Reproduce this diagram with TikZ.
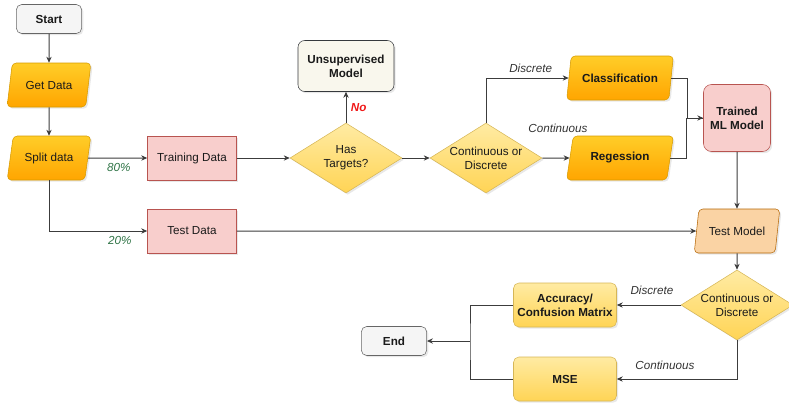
\documentclass[tikz,border=0pt]{standalone}
\usepackage{fontspec}
\setmainfont{Liberation Sans}
\usetikzlibrary{positioning, shapes.geometric, arrows.meta, shadows}
\definecolor{TermFill}  {HTML}{F5F5F5}
\definecolor{TermLine}  {HTML}{666666}
\definecolor{OrTop}     {HTML}{FFCD28}
\definecolor{OrBot}     {HTML}{FFA500}
\definecolor{OrLine}    {HTML}{D79B00}
\definecolor{PinkFill}  {HTML}{F8CECC}
\definecolor{PinkLine}  {HTML}{B85450}
\definecolor{YelTop}    {HTML}{FFEBA3}
\definecolor{YelBot}    {HTML}{FFD455}
\definecolor{YelLine}   {HTML}{D6B656}
\definecolor{UnsFill}   {HTML}{F9F7ED}
\definecolor{UnsLine}   {HTML}{36393D}
\definecolor{PeachFill} {HTML}{FAD3A4}
\definecolor{PeachLine} {HTML}{B46504}
\definecolor{LineC}     {HTML}{3C3C3C}
\definecolor{TxtMain}   {HTML}{1A1A1A}
\definecolor{TxtSub}    {HTML}{333333}
\definecolor{TxtGreen}  {HTML}{2E7345}
\definecolor{TxtRed}    {HTML}{F01818}

\tikzset{
  base/.style={font=\fontsize{8.75}{10.5}\selectfont, text=TxtMain, align=center,
               inner sep=1pt,
               drop shadow={opacity=0.18, shadow xshift=1.3pt, shadow yshift=-1.3pt}},
  terminal/.style={base, rectangle, rounded corners=4pt, fill=TermFill, draw=TermLine,
                   minimum width=49pt, minimum height=21.75pt,
                   font=\fontsize{8.75}{10.5}\selectfont\bfseries},
  iobox/.style={base, trapezium, trapezium left angle=72, trapezium right angle=108,
                trapezium stretches=true, rounded corners=3pt,
                top color=OrTop, bottom color=OrBot, draw=OrLine,
                minimum width=63pt, minimum height=33pt},
  databox/.style={base, rectangle, fill=PinkFill, draw=PinkLine,
                  minimum width=66.75pt, minimum height=33pt},
  decide/.style={base, diamond, aspect=1.6, inner sep=0pt,
                 top color=YelTop, bottom color=YelBot,
                 draw=YelLine, minimum width=84pt, minimum height=52.5pt},
  resbox/.style={base, rectangle, rounded corners=4pt, top color=YelTop, bottom color=YelBot,
                 draw=YelLine, minimum width=77.25pt, minimum height=33pt,
                 font=\fontsize{8.75}{10.5}\selectfont\bfseries},
  flow/.style={draw=LineC, line width=0.75pt, -{Stealth[length=4.5pt, width=4pt]}},
  link/.style={draw=LineC, line width=0.75pt},
  edgelbl/.style={font=\fontsize{8.75}{10.5}\selectfont\itshape, text=TxtSub},
}

\begin{document}
\begin{tikzpicture}[x=0.75pt, y=-0.75pt]
  \useasboundingbox (0,0) rectangle (789,412);

  % ── Left column: start and data ──
  \node[terminal] (start) at (49,19) {Start};
  \node[iobox] (getdata) at (49,85) {Get Data};
  \node[iobox] (split) at (49,158) {Split data};
  \node[databox] (train) at (192,158) {Training Data};
  \node[databox] (test) at (192,231) {Test Data};

  % ── Training branch ──
  \node[decide] (targets) at (346,158) {Has\\Targets?};
  \node[base, rectangle, rounded corners=5pt, fill=UnsFill, draw=UnsLine,
        minimum width=72pt, minimum height=38.25pt,
        font=\fontsize{8.75}{10.5}\selectfont\bfseries] (unsup) at (346,66) {Unsupervised\\Model};
  \node[decide] (kind1) at (486,158) {Continuous or\\Discrete};
  \node[iobox, minimum width=80.25pt, font=\fontsize{8.75}{10.5}\selectfont\bfseries]
        (classif) at (620,78) {Classification};
  \node[iobox, minimum width=80.25pt, font=\fontsize{8.75}{10.5}\selectfont\bfseries]
        (regr) at (620,158) {Regession};
  \node[base, rectangle, rounded corners=6pt, fill=PinkFill, draw=PinkLine,
        minimum width=50.25pt, minimum height=50.25pt,
        font=\fontsize{8.75}{10.5}\selectfont\bfseries] (trained) at (737,118) {Trained\\ML Model};

  % ── Testing branch ──
  \node[iobox, top color=PeachFill, bottom color=PeachFill, draw=PeachLine,
        minimum width=64.5pt] (testm) at (737,231) {Test Model};
  \node[decide] (kind2) at (737,305) {Continuous or\\Discrete};
  \node[resbox] (acc) at (565,305) {Accuracy/\\Confusion Matrix};
  \node[resbox] (mse) at (565,379) {MSE};
  \node[terminal] (end) at (394,341) {End};
  \coordinate (merge) at (470,341);

  % ── Connectors ──
  \draw[flow] (start) -- (getdata);
  \draw[flow] (getdata) -- (split);
  \draw[flow] (split.east) -- node[below, pos=0.52, edgelbl, text=TxtGreen] {80\%} (train.west);
  \draw[flow] (split.south) |- node[below, pos=0.86, edgelbl, text=TxtGreen] {20\%} (test.west);
  \draw[flow] (train.east) -- (targets.west);
  \draw[flow] (targets.north) -- node[right, edgelbl, text=TxtRed,
        font=\fontsize{8.75}{10.5}\selectfont\bfseries\itshape] {No} (unsup.south);
  \draw[flow] (targets.east) -- (kind1.west);
  \draw[flow] (kind1.north) |- node[above, pos=0.77, edgelbl] {Discrete} (classif.west);
  \draw[flow] (kind1.east) -- (regr.west);
  \node[edgelbl] (contlbl) at (558,128) {Continuous};
  \draw[flow] (classif.east) -- ++(16,0) |- (trained.west);
  \draw[link] (regr.east) -- ++(16,0) |- (trained.west);
  \draw[flow] (trained) -- (testm);
  \draw[flow] (test.east) -- (testm.west);
  \draw[flow] (testm) -- (kind2);
  \draw[flow] (kind2.west) -- node[above, pos=0.45, yshift=4pt, edgelbl] {Discrete} (acc.east);
  \draw[flow] (kind2.south) |- node[above, pos=0.8, yshift=3pt, edgelbl] {Continuous} (mse.east);
  \draw[link] (acc.west) -| (merge) |- (mse.west);
  \draw[flow] (merge) -- (end.east);
\end{tikzpicture}
\end{document}
